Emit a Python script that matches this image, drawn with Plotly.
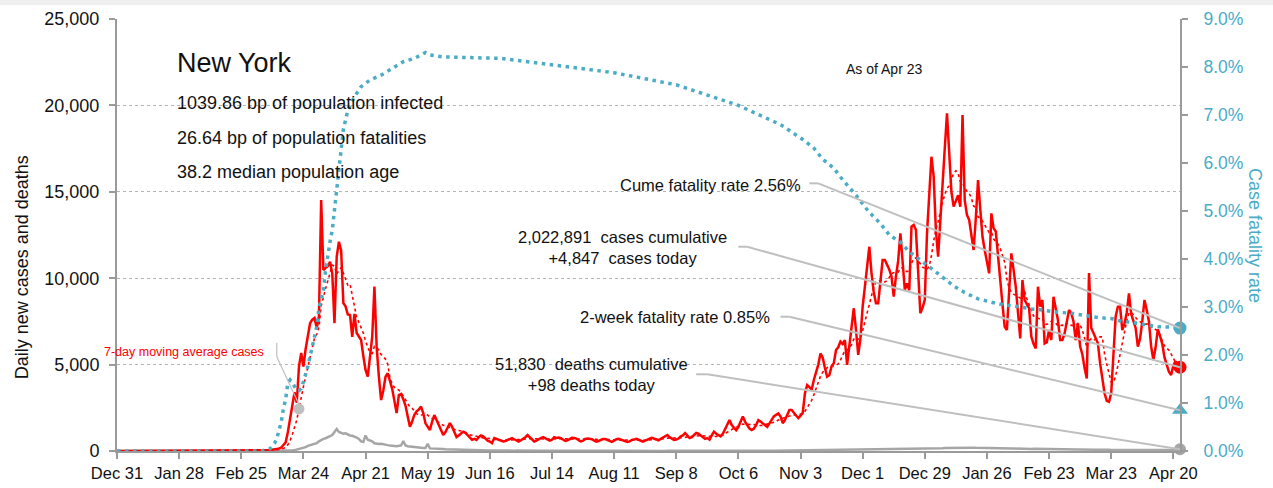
import numpy as np
import pandas as pd
import plotly.graph_objects as go

# ---------------- data ----------------
X_START, X_END = "2019-12-31", "2021-04-23"
Y_MAX, Y2_MAX = 25000, 9.0

lead_dates = ["2019-12-31", "2020-02-29"]
lead_values = [0, 0]

cases_2020_03 = [0, 0, 1, 10, 20, 30, 40, 50, 60, 80, 100, 110, 150, 200, 350, 500, 1100, 1800, 2600, 3400,
                 2800, 4880, 5670, 4880, 5900, 6610, 7390, 7600, 7700, 7120, 7800]
cases_2020_04 = [14530, 10470, 10600, 10700, 10950, 10270, 7400, 11240, 12110, 11600, 8560, 8370, 7900, 7870, 6610,
                 7930, 6830, 6600, 6420, 5500, 4690, 4300, 5400, 6600, 9510, 6040, 4300, 2950, 3500, 4300]
cases_2020_05 = [4500, 4000, 3600, 2900, 2200, 3240, 3300, 3000, 2630, 2000, 1410, 1700, 2100, 2300, 2400, 2570,
                 2200, 1600, 1400, 1215, 1700, 2080, 1800, 1500, 1200, 925, 1100, 1400, 1620, 1400, 1100]
cases_2020_06 = [810, 900, 1000, 1120, 1050, 900, 750, 650, 700, 640, 800, 900, 850, 700, 600, 550, 460, 750, 700,
                 650, 600, 550, 580, 650, 700, 750, 680, 600, 550, 620]
cases_2020_07 = [700, 800, 925, 800, 650, 550, 600, 700, 750, 800, 720, 650, 600, 650, 800, 760, 780, 740, 650, 580,
                 620, 700, 760, 750, 720, 620, 560, 600, 700, 720, 700]
cases_2020_08 = [680, 600, 540, 580, 650, 700, 690, 650, 580, 530, 600, 680, 700, 650, 620, 560, 520, 560, 640, 660,
                 700, 650, 580, 540, 600, 680, 710, 760, 700, 640, 620]
cases_2020_09 = [700, 760, 850, 925, 800, 700, 640, 660, 720, 850, 900, 1040, 860, 750, 800, 900, 1040, 1000, 900,
                 800, 700, 750, 660, 900, 1120, 1000, 900, 850, 1000, 1300]
cases_2020_10 = [1500, 1790, 1500, 1330, 1200, 1400, 1700, 1990, 1700, 1500, 1300, 1215, 1300, 1500, 1790, 1700,
                 1600, 1500, 1400, 1600, 1800, 2000, 2100, 2180, 1990, 1610, 1800, 2100, 2370, 2370, 2200]
cases_2020_11 = [2000, 1900, 2050, 2200, 3340, 3820, 3700, 3530, 4110, 4500, 5000, 5650, 5400, 4800, 4300, 4400,
                 4900, 5080, 5840, 6000, 6330, 6200, 6420, 4980, 6000, 7100, 8260, 7000, 5560, 6500]
cases_2020_12 = [8350, 9500, 10800, 11820, 10280, 9200, 8550, 8550, 9800, 11050, 11050, 10800, 10500, 10100, 8930,
                 10100, 11000, 12600, 11000, 9320, 9700, 9300, 12980, 13080, 12800, 10000, 7970, 8300, 8740, 12600,
                 14525]
cases_2021_01 = [17030, 15880, 12790, 11240, 13500, 15880, 17500, 19540, 17000, 15000, 14140, 14500, 14800, 14140,
                 19440, 14500, 13660, 13370, 12500, 11630, 13500, 15680, 14000, 12400, 11630, 11000, 10280, 13750,
                 12900, 12700, 11500]
cases_2021_02 = [9900, 8500, 7190, 7000, 9000, 11440, 10500, 9500, 8000, 6520, 9900, 8740, 8500, 8270, 6620, 6200,
                 5940, 9510, 8360, 8740, 6230, 6300, 7000, 6420, 8930, 8200, 7580, 6420]
cases_2021_03 = [6420, 6800, 7500, 8160, 7970, 7500, 6420, 7390, 6040, 5600, 4800, 4200, 10300, 7120, 6830, 6500,
                 6230, 5070, 4200, 3340, 2900, 2850, 3340, 6000, 7770, 8350, 8350, 7000, 7390, 8000, 9120]
cases_2021_04 = [7930, 7500, 7120, 6040, 6500, 7500, 8740, 8160, 7500, 6040, 5270, 6000, 7040, 6660, 6200, 5420,
                 5000, 4590, 4400, 4950, 5200, 4900, 4847]

deaths_2020_03 = [0, 0, 0, 0, 0, 0, 0, 0, 0, 0, 0, 0, 0, 2, 5, 10, 20, 30, 40, 50, 80, 110, 140, 180, 220, 300,
                  330, 360, 380, 450, 560]
deaths_2020_04 = [640, 700, 740, 790, 850, 920, 1100, 1270, 1100, 1040, 1000, 1020, 950, 900, 880, 850, 780, 700,
                  560, 520, 900, 650, 600, 560, 450, 420, 400, 420, 380, 360]
deaths_2020_05 = [340, 320, 300, 300, 280, 300, 320, 580, 320, 280, 260, 250, 240, 230, 220, 200, 180, 170, 420,
                  150, 150, 150, 140, 130, 120, 110, 100, 95, 90, 85, 80]
deaths_2020_06 = [78, 70, 66, 71, 60, 55, 52, 58, 49, 44, 47, 40, 38, 42, 35, 33, 36, 30, 31, 27, 25, 28, 24, 22,
                  26, 21, 20, 23, 19, 18]
deaths_2020_07 = [20, 17, 16, 19, 14, 13, 15, 17, 14, 12, 13, 11, 12, 14, 13, 11, 10, 12, 11, 9, 10, 12, 11, 9, 10,
                  8, 9, 11, 10, 9, 8]
deaths_2020_08 = [9, 8, 7, 9, 10, 8, 7, 6, 8, 9, 7, 6, 8, 7, 9, 8, 6, 7, 8, 7, 6, 8, 7, 9, 6, 7, 8, 7, 6, 8, 7]
deaths_2020_09 = [7, 8, 6, 9, 7, 6, 8, 10, 7, 9, 8, 7, 9, 11, 8, 7, 10, 9, 8, 12, 9, 10, 11, 13, 9, 10, 12, 11, 13,
                  12]
deaths_2020_10 = [10, 13, 12, 9, 14, 15, 12, 11, 16, 13, 12, 14, 17, 15, 13, 16, 18, 14, 15, 17, 19, 16, 18, 20, 17,
                  19, 21, 18, 20, 22, 23]
deaths_2020_11 = [20, 24, 26, 22, 25, 28, 30, 27, 32, 35, 31, 36, 38, 34, 37, 40, 45, 42, 47, 50, 44, 48, 52, 55,
                  50, 58, 54, 62, 60, 65]
deaths_2020_12 = [68, 72, 75, 70, 78, 82, 85, 80, 88, 92, 95, 90, 98, 102, 100, 108, 112, 105, 115, 118, 110, 122,
                  125, 120, 115, 128, 130, 124, 135, 140, 145]
deaths_2021_01 = [150, 148, 142, 155, 160, 165, 170, 175, 168, 172, 180, 185, 178, 182, 190, 186, 175, 180, 188,
                  192, 185, 180, 176, 170, 172, 168, 165, 160, 158, 162, 155]
deaths_2021_02 = [150, 148, 145, 152, 140, 138, 142, 135, 130, 136, 128, 125, 130, 122, 118, 124, 120, 115, 112,
                  118, 110, 108, 105, 112, 102, 100, 98, 104]
deaths_2021_03 = [95, 92, 98, 90, 88, 94, 86, 84, 90, 82, 80, 85, 78, 76, 82, 74, 72, 78, 70, 68, 74, 66, 64, 70,
                  62, 60, 66, 58, 56, 62, 60]
deaths_2021_04 = [58, 62, 55, 60, 64, 58, 56, 62, 60, 57, 54, 60, 58, 62, 56, 53, 58, 55, 60, 56, 52, 58, 98]

cfr_dates = ["2019-12-31", "2020-03-05", "2020-03-09", "2020-03-11", "2020-03-12", "2020-03-13", "2020-03-14",
             "2020-03-15", "2020-03-16", "2020-03-17", "2020-03-18", "2020-03-19", "2020-03-20", "2020-03-21",
             "2020-03-22", "2020-03-23", "2020-03-24", "2020-03-25", "2020-03-26", "2020-03-27", "2020-03-28",
             "2020-03-29", "2020-03-30", "2020-03-31", "2020-04-01", "2020-04-02", "2020-04-03", "2020-04-04",
             "2020-04-05", "2020-04-06", "2020-04-07", "2020-04-08", "2020-04-09", "2020-04-10", "2020-04-11",
             "2020-04-13", "2020-04-16", "2020-04-19", "2020-04-23", "2020-04-28", "2020-05-04", "2020-05-08",
             "2020-05-13", "2020-05-18", "2020-05-20", "2020-05-26", "2020-06-21", "2020-07-14", "2020-08-11",
             "2020-09-08", "2020-10-06", "2020-10-25", "2020-11-04", "2020-11-09", "2020-11-13", "2020-11-18",
             "2020-11-22", "2020-11-28", "2020-12-04", "2020-12-09", "2020-12-13", "2020-12-18", "2020-12-22",
             "2020-12-27", "2021-01-01", "2021-01-06", "2021-01-11", "2021-01-16", "2021-01-22", "2021-01-28",
             "2021-02-03", "2021-02-09", "2021-02-15", "2021-02-21", "2021-02-27", "2021-03-05", "2021-03-11",
             "2021-03-17", "2021-03-23", "2021-03-27", "2021-04-01", "2021-04-07", "2021-04-13", "2021-04-19",
             "2021-04-23"]
cfr_values = [0, 0, 0.05, 0.16, 0.26, 0.45, 0.6, 0.89, 1.08, 1.42, 1.48, 1.42, 1.33, 1.27, 1.26, 1.3, 1.44, 1.58,
              1.76, 1.97, 2.17, 2.38, 2.59, 2.97, 3.15, 3.35, 3.77, 4.12, 4.36, 4.6, 5.05, 5.5, 5.95, 6.35, 6.7,
              7.1, 7.38, 7.59, 7.73, 7.83, 8.0, 8.11, 8.18, 8.3, 8.25, 8.21, 8.18, 8.05, 7.88, 7.63, 7.2, 6.8,
              6.49, 6.31, 6.08, 5.89, 5.65, 5.33, 4.97, 4.74, 4.5, 4.35, 4.15, 3.98, 3.8, 3.63, 3.44, 3.3, 3.17,
              3.1, 3.04, 3.01, 2.96, 2.93, 2.89, 2.87, 2.83, 2.78, 2.76, 2.71, 2.68, 2.64, 2.59, 2.58, 2.56]

state_name = "New York"
bp_infected = 1039.86
bp_fatalities = 26.64
median_age = 38.2
as_of = "Apr 23"
cases_cumulative = 2022891
cases_today = 4847
deaths_cumulative = 51830
deaths_today = 98
cume_cfr_pct = 2.56
two_week_cfr_pct = 0.85

# ---------------- assemble ----------------
cases_daily = (cases_2020_03 + cases_2020_04 + cases_2020_05 + cases_2020_06 + cases_2020_07 + cases_2020_08 +
               cases_2020_09 + cases_2020_10 + cases_2020_11 + cases_2020_12 + cases_2021_01 + cases_2021_02 +
               cases_2021_03 + cases_2021_04)
deaths_daily = (deaths_2020_03 + deaths_2020_04 + deaths_2020_05 + deaths_2020_06 + deaths_2020_07 +
                deaths_2020_08 + deaths_2020_09 + deaths_2020_10 + deaths_2020_11 + deaths_2020_12 +
                deaths_2021_01 + deaths_2021_02 + deaths_2021_03 + deaths_2021_04)
daily_dates = pd.date_range("2020-03-01", X_END, freq="D")
assert len(cases_daily) == len(daily_dates) == len(deaths_daily)

all_dates = list(pd.to_datetime(lead_dates)) + list(daily_dates)
cases_all = lead_values + cases_daily
deaths_all = lead_values + deaths_daily
ma7 = pd.Series(cases_daily, index=daily_dates).rolling(7, min_periods=1).mean()


def to_left(pct):
    return pct * Y_MAX / Y2_MAX


RED = "#ff0000"
CYAN = "#4bacc6"
GREY = "#a6a6a6"
LEAD = "#bfbfbf"
AXIS = "#9a9a9a"
TXT = "#111111"
FONT = "Liberation Sans, Arial, sans-serif"

fig = go.Figure()
fig.add_trace(go.Scatter(x=all_dates, y=deaths_all, mode="lines", line=dict(color=GREY, width=2.5),
                         name="deaths"))
fig.add_trace(go.Scatter(x=all_dates, y=cases_all, mode="lines", line=dict(color=RED, width=2.5),
                         name="cases"))
fig.add_trace(go.Scatter(x=ma7.index, y=ma7.values, mode="lines", line=dict(color=RED, width=1.6, dash="dot"),
                         name="7-day"))
fig.add_trace(go.Scatter(x=pd.to_datetime(cfr_dates), y=cfr_values, mode="lines", yaxis="y2",
                         line=dict(color=CYAN, width=3.5, dash="3.5px,4.5px"), name="cfr"))

# end markers
end = pd.Timestamp(X_END)
fig.add_trace(go.Scatter(x=[end], y=[cases_today], mode="markers", cliponaxis=False,
                         marker=dict(color=RED, size=13)))
fig.add_trace(go.Scatter(x=[end], y=[deaths_today], mode="markers", cliponaxis=False,
                         marker=dict(color=GREY, size=12)))
fig.add_trace(go.Scatter(x=[end], y=[cume_cfr_pct], yaxis="y2", mode="markers", cliponaxis=False,
                         marker=dict(color=CYAN, size=13)))
fig.add_trace(go.Scatter(x=[end], y=[two_week_cfr_pct], yaxis="y2", mode="markers", cliponaxis=False,
                         marker=dict(color=CYAN, size=14, symbol="triangle-up")))
ma_mark_date = pd.Timestamp("2020-03-22")
fig.add_trace(go.Scatter(x=[ma_mark_date], y=[ma7[ma_mark_date]], mode="markers", cliponaxis=False,
                         marker=dict(color=LEAD, size=11)))

shapes = []


def seg(x0, y0, x1, y1, color=LEAD, width=2):
    shapes.append(dict(type="line", xref="x", yref="y", x0=x0, y0=y0, x1=x1, y1=y1,
                       line=dict(color=color, width=width), layer="above"))


# leader lines (label stub -> end marker)
seg("2020-11-07", 15490, "2020-11-11", 15490)
seg("2020-11-11", 15490, end, to_left(cume_cfr_pct))
seg("2020-10-06", 11820, "2020-10-10", 11820)
seg("2020-10-10", 11820, end, cases_today)
seg("2020-10-25", 7770, "2020-10-29", 7770)
seg("2020-10-29", 7770, end, to_left(two_week_cfr_pct))
seg("2020-09-17", 4440, "2020-09-22", 4440)
seg("2020-09-22", 4440, end, deaths_today)
seg("2020-03-12", 6250, "2020-03-12", 5450, width=1.2)
seg("2020-03-12", 5450, ma_mark_date, ma7[ma_mark_date] + 250, width=1.2)

# light grey band at the very top of the page
shapes.append(dict(type="rect", xref="paper", yref="paper", x0=-0.12, x1=1.1, y0=1.0324, y1=1.05,
                   fillcolor="#f0f0f0", line=dict(width=0), layer="below"))

annotations = [
    dict(text=state_name, x=0.0546, y=0.898, xref="paper", yref="paper", xanchor="left", yanchor="middle",
         showarrow=False, font=dict(size=27, color=TXT)),
    dict(text=f"{bp_infected:.2f} bp of population infected", x=0.0546, y=0.8056, xref="paper", yref="paper",
         xanchor="left", yanchor="middle", showarrow=False, font=dict(size=18, color=TXT)),
    dict(text=f"{bp_fatalities:.2f} bp of population fatalities", x=0.0546, y=0.7245, xref="paper",
         yref="paper", xanchor="left", yanchor="middle", showarrow=False, font=dict(size=18, color=TXT)),
    dict(text=f"{median_age} median population age", x=0.0546, y=0.6458, xref="paper", yref="paper",
         xanchor="left", yanchor="middle", showarrow=False, font=dict(size=18, color=TXT)),
    dict(text=f"As of {as_of}", x=0.7215, y=0.884, xref="paper", yref="paper", xanchor="center",
         yanchor="middle", showarrow=False, font=dict(size=14, color=TXT)),
    dict(text=f"Cume fatality rate {cume_cfr_pct:.2f}%", x="2020-11-04", y=15390, xref="x", yref="y",
         xanchor="right", yanchor="middle", showarrow=False, font=dict(size=16.5, color=TXT)),
    dict(text=f"{cases_cumulative:,}\u00a0 cases cumulative<br>+{cases_today:,}\u00a0 cases today",
         x="2020-08-15", y=11800, xref="x", yref="y", xanchor="center", yanchor="middle", align="center",
         showarrow=False, font=dict(size=16.5, color=TXT)),
    dict(text=f"2-week fatality rate {two_week_cfr_pct:.2f}%", x="2020-10-21", y=7740, xref="x", yref="y",
         xanchor="right", yanchor="middle", showarrow=False, font=dict(size=16.5, color=TXT)),
    dict(text=f"{deaths_cumulative:,}\u00a0 deaths cumulative<br>+{deaths_today} deaths today",
         x="2020-08-01", y=4400, xref="x", yref="y", xanchor="center", yanchor="middle", align="center",
         showarrow=False, font=dict(size=16.5, color=TXT)),
    dict(text="7-day moving average cases", x="2020-03-07", y=5730, xref="x", yref="y", xanchor="right",
         yanchor="middle", showarrow=False, font=dict(size=12.5, color=RED)),
    dict(text="Daily new cases and deaths", x=-0.0894, y=0.425, xref="paper", yref="paper", textangle=-90,
         xanchor="center", yanchor="middle", showarrow=False, font=dict(size=18, color=TXT)),
    dict(text="Case fatality rate", x=1.0706, y=0.5, xref="paper", yref="paper", textangle=90,
         xanchor="center", yanchor="middle", showarrow=False, font=dict(size=18, color=CYAN)),
]

fig.update_layout(
    width=1273, height=488,
    margin=dict(l=117, r=93, t=19, b=37, autoexpand=False),
    paper_bgcolor="white", plot_bgcolor="white",
    showlegend=False,
    font=dict(family=FONT, color=TXT),
    xaxis=dict(type="date", range=[X_START, X_END], tick0=X_START, dtick=28 * 86400000, tickformat="%b %-d",
               tickangle=0, automargin=False,
               showgrid=False, zeroline=False, showline=True, linecolor=AXIS, linewidth=2, ticks="outside",
               ticklen=6, tickwidth=1.5, tickcolor=AXIS, tickfont=dict(size=16.5, color=TXT)),
    yaxis=dict(range=[0, Y_MAX], dtick=5000, tickformat=",d", showgrid=True, gridcolor="#b5b5b5",
               griddash="dot", gridwidth=1, zeroline=False, showline=True, linecolor=AXIS, linewidth=2,
               automargin=False,
               ticks="outside", ticklen=6, tickwidth=1.5, tickcolor=AXIS, tickfont=dict(size=18, color=TXT),
               ticklabelstandoff=6),
    yaxis2=dict(range=[0, Y2_MAX], dtick=1, tickformat=".1f", ticksuffix="%", overlaying="y", side="right",
                automargin=False,
                showgrid=False, zeroline=False, showline=True, linecolor=AXIS, linewidth=2, ticks="outside",
                ticklen=6, tickwidth=1.5, tickcolor=AXIS, tickfont=dict(size=17.5, color=CYAN),
                ticklabelstandoff=12),
    shapes=shapes,
    annotations=annotations,
)

fig.write_html("out.html",
               config={"displayModeBar": False},
               post_script="document.body.style.margin='0px'; document.body.style.overflow='hidden';")
